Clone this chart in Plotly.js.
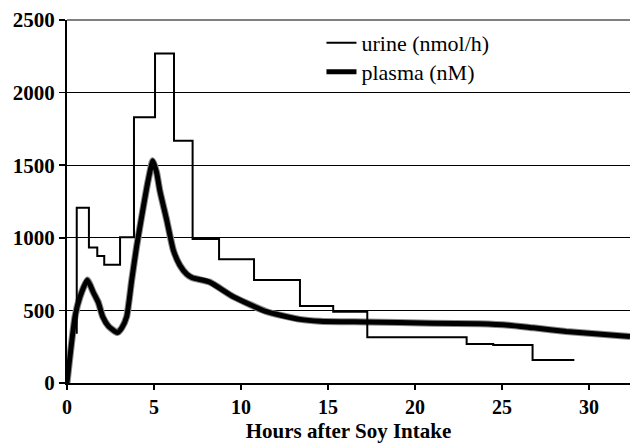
<!DOCTYPE html>
<html>
<head>
<meta charset="utf-8">
<script src="https://cdn.plot.ly/plotly-3.0.1.min.js"></script>
<style>html,body{margin:0;padding:0;background:#fff;}#chart{width:630px;height:444px;}</style>
</head>
<body>
<div id="chart"></div>
<script>
// Urine excretion rate (step function: rate starts at each time)
const urineHours = [0.56, 0.56, 1.26, 1.74, 2.14, 3.05, 3.85, 5.06, 6.15, 7.22, 8.74, 10.75, 13.39, 15.3, 17.26, 22.97, 24.5, 26.76, 29.16];
const urineRate  = [340, 1207, 934, 875, 815, 1003, 1830, 2270, 1669, 992, 852, 709, 530, 491, 315, 269, 262, 158, 158];

// Plasma concentration
const plasmaHours = [0, 0.46, 0.75, 1.17, 1.51, 1.80, 2.05, 2.38, 2.89, 3.15, 3.43, 3.72, 4.0, 4.39, 4.67, 4.93, 5.15, 5.34, 5.73, 6.11, 6.49, 6.88, 7.2, 8.2, 9.56, 11.48, 13.39, 14.54, 17.2, 21, 23.7, 25.4, 26.8, 28.7, 32.36];
const plasmaConc  = [0, 457, 594, 709, 625, 555, 457, 392, 347, 380, 457, 709, 939, 1214, 1398, 1531, 1450, 1322, 1123, 916, 810, 750, 725, 695, 594, 491, 438, 425, 420, 412, 408, 398, 380, 355, 320];

const xTicks = [0, 5, 10, 15, 20, 25, 30];
const yTicks = [0, 500, 1000, 1500, 2000, 2500];

const serif = "Liberation Serif, Times New Roman, serif";

const traces = [
  {
    x: plasmaHours, y: plasmaConc, type: 'scatter', mode: 'lines',
    line: {color: '#8a8a8a', width: 7, shape: 'spline', smoothing: 0.5},
    showlegend: false, hoverinfo: 'skip'
  },
  {
    x: urineHours, y: urineRate, type: 'scatter', mode: 'lines',
    name: 'urine (nmol/h)',
    line: {color: '#000', width: 2, shape: 'hv'},
    legend: 'legend'
  },
  {
    x: plasmaHours, y: plasmaConc, type: 'scatter', mode: 'lines',
    name: 'plasma (nM)',
    line: {color: '#000', width: 5, shape: 'spline', smoothing: 0.5},
    legend: 'legend2'
  }
];

const layout = {
  width: 630, height: 444,
  margin: {l: 67, r: 0, t: 20, b: 61},
  paper_bgcolor: '#fff', plot_bgcolor: '#fff',
  font: {family: serif, color: '#000', size: 21},
  xaxis: {
    range: [0, 32.36], tickvals: xTicks, ticktext: xTicks.map(v => '<b>' + v + '</b>'),
    ticks: 'outside', ticklen: 5, tickwidth: 1.5, tickcolor: '#000',
    showline: true, linecolor: '#000', linewidth: 2,
    showgrid: false, zeroline: false,
    tickfont: {family: serif, size: 20, color: '#000'},
    title: {text: '<b>Hours after Soy Intake</b>', font: {family: serif, size: 21, color: '#000'}, standoff: 6}
  },
  yaxis: {
    range: [0, 2500], tickvals: yTicks, ticktext: yTicks.map(v => '<b>' + v + '</b>'),
    ticks: 'outside', ticklen: 6, tickwidth: 1.5, tickcolor: '#000',
    showline: true, linecolor: '#000', linewidth: 2,
    showgrid: true, gridcolor: '#000', gridwidth: 1,
    zeroline: false,
    tickfont: {family: serif, size: 21, color: '#000'}
  },
  shapes: [
    {type: 'line', xref: 'paper', yref: 'paper', x0: 0, x1: 1, y0: 1, y1: 1, line: {color: '#808080', width: 2}}
  ],
  legend: {
    x: 0.452, y: 0.9366, xanchor: 'left', yanchor: 'middle',
    bgcolor: 'rgba(0,0,0,0)', borderwidth: 0,
    font: {family: serif, size: 22, color: '#000'}
  },
  legend2: {
    x: 0.452, y: 0.8567, xanchor: 'left', yanchor: 'middle',
    bgcolor: 'rgba(0,0,0,0)', borderwidth: 0,
    font: {family: serif, size: 22, color: '#000'}
  },
  showlegend: true
};

Plotly.newPlot('chart', traces, layout, {displayModeBar: false, staticPlot: true});
</script>
</body>
</html>
